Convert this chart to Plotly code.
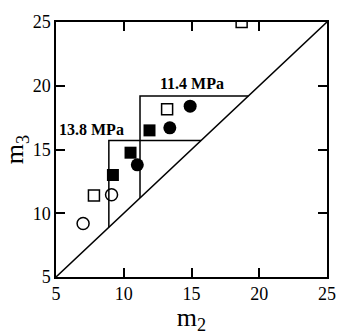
import plotly.graph_objects as go

# Data
open_circle_x = [7.0, 9.1]
open_circle_y = [9.2, 11.45]
open_square_x = [7.8, 13.2, 18.7]
open_square_y = [11.4, 18.15, 25.0]
filled_square_x = [9.2, 10.5, 11.9]
filled_square_y = [13.0, 14.75, 16.5]
filled_circle_x = [11.0, 13.4, 14.9]
filled_circle_y = [13.8, 16.7, 18.4]

diag = [5, 25]
box_labels = ["13.8 MPa", "11.4 MPa"]
box_x0 = [8.9, 11.2]     # vertical line position
box_y0 = [15.7, 19.2]    # horizontal line position
label_x = [7.6, 15.05]
label_y = [16.6, 20.15]

ticks = [5, 10, 15, 20, 25]

FONT = "Liberation Serif, Times New Roman, serif"
fig = go.Figure()

fig.add_trace(go.Scatter(x=diag, y=diag, mode="lines",
                         line=dict(color="black", width=1.5), showlegend=False))
for x0, y0 in zip(box_x0, box_y0):
    fig.add_trace(go.Scatter(x=[x0, x0, y0], y=[x0, y0, y0], mode="lines",
                             line=dict(color="black", width=1.5), showlegend=False))

fig.add_trace(go.Scatter(x=open_circle_x, y=open_circle_y, mode="markers",
                         marker=dict(symbol="circle-open", size=12, color="black",
                                     line=dict(width=1.5)), showlegend=False))
fig.add_trace(go.Scatter(x=open_square_x, y=open_square_y, mode="markers",
                         marker=dict(symbol="square-open", size=11, color="black",
                                     line=dict(width=1.5)), showlegend=False))
fig.add_trace(go.Scatter(x=filled_square_x, y=filled_square_y, mode="markers",
                         marker=dict(symbol="square", size=12, color="black"),
                         showlegend=False))
fig.add_trace(go.Scatter(x=filled_circle_x, y=filled_circle_y, mode="markers",
                         marker=dict(symbol="circle", size=13, color="black"),
                         showlegend=False))

for t, lx, ly in zip(box_labels, label_x, label_y):
    fig.add_annotation(x=lx, y=ly, text="<b>%s</b>" % t, showarrow=False,
                       font=dict(family=FONT, size=16, color="black"))

axis_common = dict(range=[5, 25], tickvals=ticks, ticks="inside", ticklen=9,
                   tickwidth=1.5, tickcolor="black", showline=True, linecolor="black",
                   linewidth=1.5, mirror="ticks", showgrid=False, zeroline=False,
                   tickfont=dict(family=FONT, size=18, color="black"))

fig.update_xaxes(**axis_common,
                 title=dict(text="m<sub>2</sub>", standoff=0,
                            font=dict(family=FONT, size=26, color="black")))
fig.update_yaxes(**axis_common,
                 title=dict(text="m<sub>3</sub>", standoff=0,
                            font=dict(family=FONT, size=26, color="black")))

fig.update_layout(width=348, height=335, margin=dict(l=56, r=13, t=15, b=50),
                  plot_bgcolor="white", paper_bgcolor="white")

fig.write_html("out.html")
